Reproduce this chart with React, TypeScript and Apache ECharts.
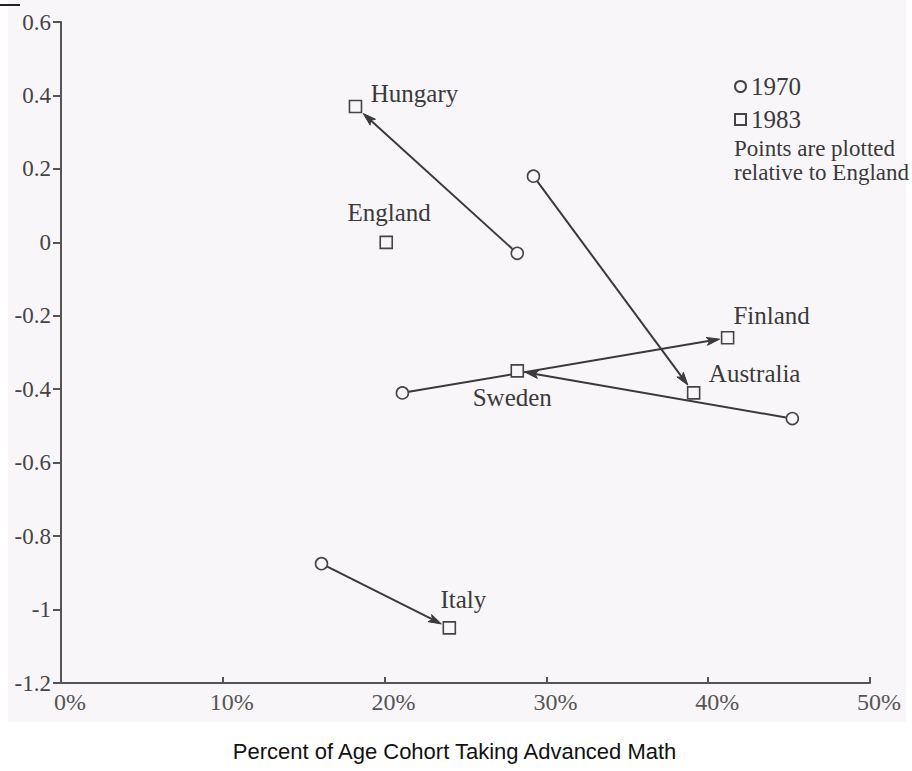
import React, { useEffect, useRef } from "react";
import * as echarts from "echarts";

const countries = ["Hungary", "Australia", "Finland", "Sweden", "Italy"];
const x1970 = [28.2, 29.2, 21.1, 45.2, 16.1];
const y1970 = [-0.03, 0.18, -0.41, -0.48, -0.875];
const x1983 = [18.2, 39.1, 41.2, 28.2, 24.0];
const y1983 = [0.37, -0.41, -0.26, -0.35, -1.05];
const england = { name: "England", x: 20.1, y: 0 };
const xTicks = [0, 10, 20, 30, 40, 50];
const yTicks = [0.6, 0.4, 0.2, 0, -0.2, -0.4, -0.6, -0.8, -1, -1.2];
const legendNames = ["1970", "1983"];
const noteText = "Points are plotted\nrelative to England";
const axisTitle = "Percent of Age Cohort Taking Advanced Math";
const labelOffsets: Record<string, number[]> = {
  Hungary: [59, -13],
  England: [3, -30],
  Finland: [44, -22],
  Australia: [61, -19],
  Sweden: [-5, 27],
  Italy: [14, -28],
};

const SERIF = "'Liberation Serif', 'DejaVu Serif', serif";
const INK = "#3a3a3a";
const BG = "#f9f6fa";

export default function App() {
  const ref = useRef<HTMLDivElement>(null);
  useEffect(() => {
    const chart = echarts.init(ref.current!, null, { renderer: "svg" });
    const circles = countries.map((c, i) => ({ name: c, value: [x1970[i], y1970[i]] }));
    const squares = [
      ...countries.map((c, i) => ({ name: c, value: [x1983[i], y1983[i]] })),
      { name: england.name, value: [england.x, england.y] },
    ].map((d) => ({
      ...d,
      label: { offset: labelOffsets[d.name] },
    }));
    const arrows = countries.map((c, i) => [x1970[i], y1970[i], x1983[i], y1983[i]]);

    chart.setOption({
      animation: false,
      backgroundColor: "#ffffff",
      graphic: [
        { type: "rect", z: -10, silent: true, shape: { x: 8, y: 0, width: 898, height: 722 }, style: { fill: BG } },
        { type: "line", z: -5, shape: { x1: 0, y1: 5, x2: 20, y2: 5 }, style: { stroke: "#222", lineWidth: 2 } },
        {
          type: "text",
          left: 734,
          top: 136,
          style: { text: noteText, font: `23px ${SERIF}`, fill: INK, lineHeight: 24 },
        },
        {
          type: "text",
          left: "center",
          top: 740,
          style: {
            text: axisTitle,
            font: "22px 'Liberation Sans', Arial, sans-serif",
            fill: "#111",
          },
        },
      ],
      legend: {
        orient: "vertical",
        left: 734,
        top: 74,
        padding: 0,
        itemWidth: 11,
        itemHeight: 11,
        itemGap: 8,
        data: legendNames,
        textStyle: { fontFamily: SERIF, fontSize: 25, color: INK },
      },
      grid: { left: 61, right: 42, top: 22, bottom: 88 },
      xAxis: {
        type: "value",
        min: xTicks[0],
        max: xTicks[xTicks.length - 1],
        interval: 10,
        splitLine: { show: false },
        axisLine: { onZero: false, lineStyle: { color: "#555", width: 2 } },
        axisTick: { inside: true, length: 6, lineStyle: { color: "#555", width: 2 } },
        axisLabel: {
          formatter: (v: number) => `${v}%`,
          fontFamily: SERIF,
          fontSize: 24,
          color: "#555",
          margin: 7,
          padding: [0, 0, 0, 18],
        },
      },
      yAxis: {
        type: "value",
        min: yTicks[yTicks.length - 1],
        max: yTicks[0],
        interval: 0.2,
        splitLine: { show: false },
        axisLine: { onZero: false, lineStyle: { color: "#555", width: 2 } },
        axisTick: { length: 8, lineStyle: { color: "#555", width: 2 } },
        axisLabel: {
          formatter: (v: number) => `${Math.round(v * 10) / 10}`,
          fontFamily: SERIF,
          fontSize: 23,
          color: "#444",
          margin: 10,
        },
      },
      series: [
        {
          type: "custom",
          name: "arrows",
          data: arrows,
          encode: { x: [0, 2], y: [1, 3] },
          z: 3,
          renderItem: (_p: any, api: any) => {
            const a = api.coord([api.value(0), api.value(1)]);
            const b = api.coord([api.value(2), api.value(3)]);
            const dx = b[0] - a[0];
            const dy = b[1] - a[1];
            const len = Math.hypot(dx, dy);
            const ux = dx / len;
            const uy = dy / len;
            const sx = a[0] + ux * 6.5;
            const sy = a[1] + uy * 6.5;
            const gap = 7 / Math.max(Math.abs(ux), Math.abs(uy)) + 1;
            const tx = b[0] - ux * gap;
            const ty = b[1] - uy * gap;
            const bx = tx - ux * 13;
            const by = ty - uy * 13;
            const nx = -uy * 4;
            const ny = ux * 4;
            return {
              type: "group",
              children: [
                {
                  type: "line",
                  shape: { x1: sx, y1: sy, x2: bx + ux * 3, y2: by + uy * 3 },
                  style: { stroke: INK, lineWidth: 2 },
                },
                {
                  type: "polygon",
                  shape: { points: [[tx, ty], [bx + nx, by + ny], [bx + ux * 3, by + uy * 3], [bx - nx, by - ny]] },
                  style: { fill: INK, stroke: INK, lineWidth: 1 },
                },
              ],
            };
          },
        },
        {
          type: "scatter",
          name: legendNames[0],
          symbol: "circle",
          symbolSize: 12,
          z: 4,
          itemStyle: { color: BG, borderColor: "#444", borderWidth: 1.6, opacity: 1 },
          data: circles,
        },
        {
          type: "scatter",
          name: legendNames[1],
          symbol: "rect",
          symbolSize: 12,
          z: 4,
          itemStyle: { color: BG, borderColor: "#444", borderWidth: 1.6, opacity: 1 },
          label: {
            show: true,
            position: "inside",
            formatter: "{b}",
            fontFamily: SERIF,
            fontSize: 25,
            color: INK,
            align: "center",
            verticalAlign: "middle",
          },
          data: squares,
        },
      ],
    });
    return () => chart.dispose();
  }, []);
  return <div ref={ref} style={{ position: "absolute", left: 0, top: 0, width: 912, height: 771 }} />;
}
